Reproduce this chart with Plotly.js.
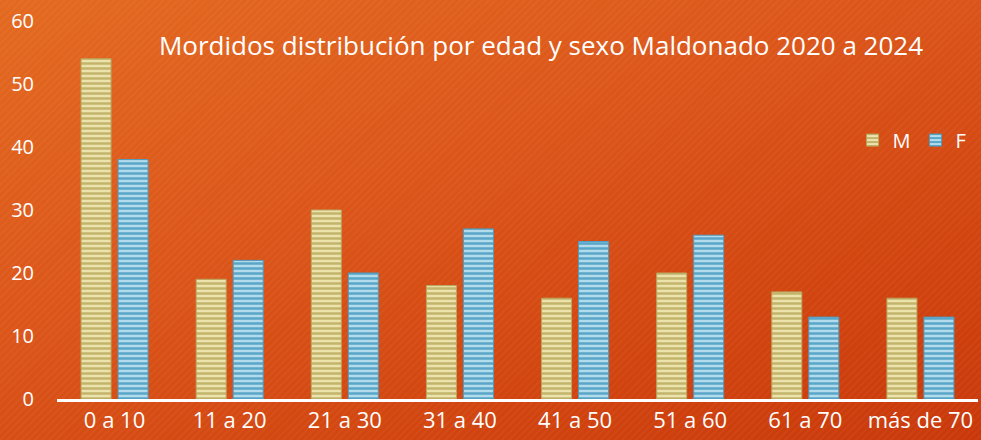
<!DOCTYPE html>
<html>
<head>
<meta charset="utf-8">
<script src="https://cdn.plot.ly/plotly-3.0.1.min.js"></script>
<style>
html,body{margin:0;padding:0;}
body{width:981px;height:440px;overflow:hidden;
background:
 repeating-linear-gradient(135deg, rgba(255,255,255,0.035) 0px, rgba(255,255,255,0.035) 2px, rgba(0,0,0,0) 2px, rgba(0,0,0,0) 5px),
 linear-gradient(160deg, #e36a20 0%, #dc561a 40%, #d1440f 75%, #c9380a 100%);}
#chart{width:981px;height:440px;}
</style>
</head>
<body>
<div id="chart"></div>
<script>
const categories = ["0 a 10","11 a 20","21 a 30","31 a 40","41 a 50","51 a 60","61 a 70","más de 70"];
const valuesM = [54,19,30,18,16,20,17,16];
const valuesF = [38,22,20,27,25,26,13,13];
const yTicks = [0,10,20,30,40,50,60];

const font = "'Open Sans', 'DejaVu Sans', sans-serif";

const traceM = {
  type:'bar', name:'M', x:categories, y:valuesM,
  marker:{color:'#ece2ac', line:{color:'#b8a860', width:1},
    pattern:{shape:'-', fgcolor:'#c3b46c', bgcolor:'#ece2ac', size:5, solidity:0.5}}
};
const traceF = {
  type:'bar', name:'F', x:categories, y:valuesF,
  marker:{color:'#b2dcec', line:{color:'#4f9cc0', width:1},
    pattern:{shape:'-', fgcolor:'#5aa6c8', bgcolor:'#b2dcec', size:5, solidity:0.5}}
};

const layout = {
  width:981, height:440,
  paper_bgcolor:'rgba(0,0,0,0)', plot_bgcolor:'rgba(0,0,0,0)',
  margin:{l:57, r:3, t:21, b:41},
  barmode:'group', bargap:0.357, bargroupgap:0.19,
  title:{text:'Mordidos distribución por edad y sexo Maldonado 2020 a 2024',
    font:{family:font, size:26, color:'#ffffff'}, x:541/981, xanchor:'center', y:0.895, yanchor:'middle'},
  xaxis:{type:'category', showline:true, linecolor:'#ffffff', linewidth:3, ticks:'', automargin:false,
    tickfont:{family:font, size:22, color:'#ffffff'}, showgrid:false, zeroline:false},
  yaxis:{range:[0,60], tickvals:yTicks, showgrid:false, zeroline:false, showline:false, automargin:false,
    ticks:'', ticklabelstandoff:22, tickfont:{family:font, size:20, color:'#ffffff'}},
  legend:{orientation:'h', x:0.993, y:0.685, xanchor:'right', yanchor:'middle',
    font:{family:font, size:20, color:'#ffffff'}, bgcolor:'rgba(0,0,0,0)', itemwidth:30, tracegroupgap:0},
  showlegend:true
};

Plotly.newPlot('chart',[traceM,traceF],layout,{displayModeBar:false, staticPlot:true});
</script>
</body>
</html>
